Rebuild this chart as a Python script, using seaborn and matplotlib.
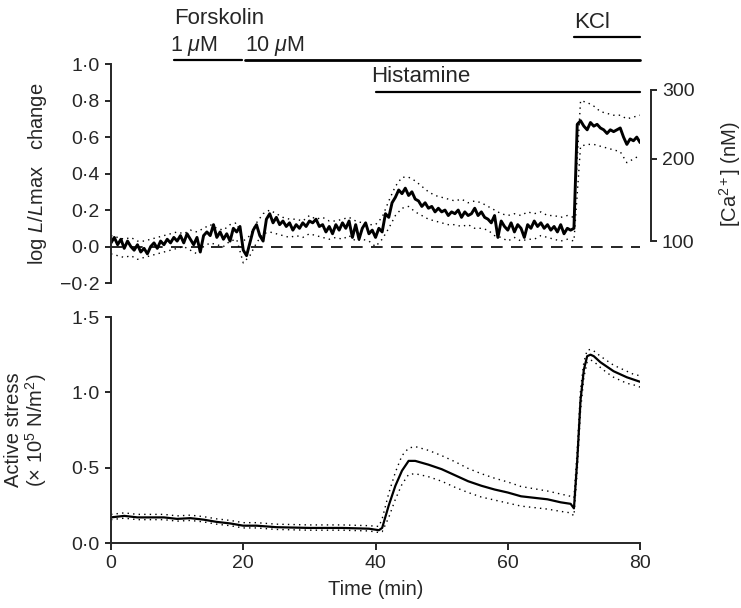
import numpy as np
import pandas as pd
import matplotlib
matplotlib.use("Agg")
import matplotlib.pyplot as plt
from matplotlib.ticker import FuncFormatter
import seaborn as sns

# --- top panel: log L/Lmax change (0.5 min sampling) ---
lum_time = [i * 0.5 for i in range(161)]
lum_mean = [
    0.02, 0.05, 0.01, 0.04, -0.01, 0.03, 0.00, -0.02, 0.01, -0.03,
    -0.01, -0.04, 0.00, 0.02, -0.01, 0.03, 0.01, 0.04, 0.02, 0.05,
    0.03, 0.06, 0.02, 0.07, 0.04, 0.01, 0.05, -0.03, 0.06, 0.08,
    0.06, 0.12, 0.05, 0.08, 0.04, 0.07, 0.03, 0.10, 0.08, 0.11,
    -0.02, -0.05, 0.02, 0.09, 0.12, 0.06, 0.03, 0.15, 0.18, 0.13,
    0.16, 0.12, 0.14, 0.11, 0.13, 0.09, 0.12, 0.10, 0.13, 0.11,
    0.14, 0.13, 0.15, 0.11, 0.12, 0.08, 0.11, 0.07, 0.12, 0.09,
    0.13, 0.10, 0.14, 0.05, 0.12, 0.04, 0.10, 0.13, 0.07, 0.09,
    0.05, 0.10, 0.08, 0.18, 0.16, 0.24, 0.27, 0.31, 0.29, 0.32,
    0.28, 0.30, 0.26, 0.25, 0.22, 0.24, 0.21, 0.22, 0.19, 0.21,
    0.19, 0.20, 0.17, 0.19, 0.18, 0.20, 0.16, 0.19, 0.17, 0.18,
    0.21, 0.17, 0.19, 0.16, 0.15, 0.13, 0.17, 0.05, 0.14, 0.11,
    0.09, 0.13, 0.08, 0.12, 0.10, 0.05, 0.12, 0.10, 0.14, 0.11,
    0.13, 0.10, 0.12, 0.09, 0.11, 0.08, 0.12, 0.07, 0.10, 0.09,
    0.10, 0.67, 0.69, 0.66, 0.64, 0.68, 0.66, 0.67, 0.65, 0.64,
    0.62, 0.64, 0.63, 0.64, 0.65, 0.60, 0.56, 0.59, 0.58, 0.60,
    0.57,
]
band_time = list(range(81))
lum_upper = [
    0.06, 0.05, 0.04, 0.05, 0.03, 0.03, 0.04, 0.05, 0.06, 0.07,
    0.08, 0.07, 0.09, 0.08, 0.10, 0.12, 0.10, 0.09, 0.12, 0.13,
    0.03, 0.06, 0.13, 0.18, 0.20, 0.18, 0.16, 0.15, 0.15, 0.14,
    0.17, 0.15, 0.16, 0.14, 0.14, 0.15, 0.16, 0.14, 0.13, 0.12,
    0.12, 0.16, 0.25, 0.33, 0.38, 0.38, 0.36, 0.33, 0.30, 0.28,
    0.27, 0.26, 0.25, 0.26, 0.24, 0.25, 0.24, 0.22, 0.20, 0.18,
    0.17, 0.18, 0.17, 0.19, 0.18, 0.19, 0.17, 0.17, 0.16, 0.17,
    0.16, 0.80, 0.79, 0.77, 0.74, 0.73, 0.72, 0.72, 0.70, 0.71,
    0.72,
]
lum_lower = [
    -0.04, -0.05, -0.06, -0.05, -0.07, -0.06, -0.05, -0.04, -0.03, -0.02,
    -0.01, 0.00, -0.02, -0.04, 0.00, 0.02, 0.01, 0.00, 0.03, 0.04,
    -0.09, -0.05, 0.02, 0.07, 0.08, 0.07, 0.06, 0.05, 0.06, 0.05,
    0.07, 0.06, 0.05, 0.04, 0.05, 0.04, 0.06, 0.03, 0.04, 0.03,
    0.00, 0.04, 0.10, 0.17, 0.21, 0.22, 0.19, 0.17, 0.15, 0.14,
    0.13, 0.12, 0.12, 0.11, 0.12, 0.10, 0.10, 0.09, 0.06, 0.05,
    0.03, 0.05, 0.03, 0.04, 0.04, 0.06, 0.05, 0.04, 0.03, 0.04,
    0.03, 0.55, 0.56, 0.56, 0.55, 0.54, 0.53, 0.52, 0.46, 0.48,
    0.50,
]

# right-hand calcium scale (nonlinear calibration, tick positions in log L/Lmax units)
ca_labels = ["100", "200", "300"]
ca_tick_pos = [0.03, 0.48, 0.86]

# --- bottom panel: active stress ---
stress_time = [0, 2, 4, 6, 8, 10, 12, 14, 16, 18, 20, 22, 25, 30, 35, 39,
               40.5, 41, 42, 43, 44, 45, 46, 48, 50, 52, 54, 56, 58, 60, 62,
               64, 66, 68, 69.5, 70, 70.5, 71, 71.5, 72, 72.5, 73, 74, 75,
               76, 77, 78, 79, 80]
stress_mean = [0.17, 0.18, 0.17, 0.17, 0.17, 0.16, 0.165, 0.155, 0.14, 0.13,
               0.115, 0.115, 0.105, 0.10, 0.10, 0.095,
               0.085, 0.10, 0.25, 0.38, 0.48, 0.545, 0.545, 0.52, 0.49, 0.45,
               0.41, 0.38, 0.355, 0.335, 0.31, 0.30, 0.29, 0.27, 0.26, 0.23,
               0.55, 0.95, 1.15, 1.24, 1.25, 1.24, 1.20, 1.17, 1.14, 1.12,
               1.10, 1.085, 1.07]
stress_upper = [0.19, 0.20, 0.19, 0.19, 0.19, 0.18, 0.185, 0.175, 0.16, 0.15,
                0.135, 0.135, 0.125, 0.12, 0.12, 0.115,
                0.11, 0.16, 0.33, 0.47, 0.58, 0.63, 0.64, 0.615, 0.58, 0.54,
                0.495, 0.46, 0.43, 0.405, 0.375, 0.36, 0.345, 0.325, 0.31, 0.30,
                0.62, 1.02, 1.20, 1.28, 1.285, 1.275, 1.24, 1.21, 1.18, 1.16,
                1.14, 1.12, 1.11]
stress_lower = [0.155, 0.165, 0.155, 0.155, 0.155, 0.145, 0.15, 0.14, 0.125, 0.115,
                0.10, 0.10, 0.09, 0.085, 0.085, 0.08,
                0.07, 0.075, 0.17, 0.29, 0.39, 0.455, 0.46, 0.44, 0.41, 0.37,
                0.335, 0.305, 0.285, 0.265, 0.245, 0.235, 0.225, 0.21, 0.20, 0.18,
                0.48, 0.88, 1.10, 1.20, 1.215, 1.205, 1.165, 1.13, 1.10, 1.08,
                1.06, 1.05, 1.035]

x_ticks = [0, 20, 40, 60, 80]
lum_ticks = [-0.2, 0.0, 0.2, 0.4, 0.6, 0.8, 1.0]
stress_ticks = [0.0, 0.5, 1.0, 1.5]

sns.set_style("ticks")
plt.rcParams["font.family"] = ["Liberation Sans", "DejaVu Sans"]
plt.rcParams["mathtext.fontset"] = "custom"
plt.rcParams["mathtext.rm"] = "Liberation Sans"
plt.rcParams["mathtext.it"] = "Liberation Sans:italic"
plt.rcParams["axes.linewidth"] = 1.4
plt.rcParams["xtick.major.width"] = 1.4
plt.rcParams["ytick.major.width"] = 1.4
plt.rcParams["xtick.major.size"] = 5
plt.rcParams["ytick.major.size"] = 4.5

dot_fmt = FuncFormatter(lambda v, p: f"{v:.1f}".replace(".", "\u00b7").replace("-", "\u2212"))

fig = plt.figure(figsize=(7.41, 6.08), dpi=100)
ax_top = fig.add_axes([0.1498, 0.5345, 0.714, 0.360])
ax_bot = fig.add_axes([0.1498, 0.1069, 0.714, 0.3717])

# top panel traces
df_lum = pd.DataFrame({"t": lum_time, "v": lum_mean})
df_band = pd.DataFrame({"t": band_time, "up": lum_upper, "lo": lum_lower})
sns.lineplot(data=df_band, x="t", y="up", ax=ax_top, color="black", lw=1.0,
             linestyle=(0, (1, 3)))
sns.lineplot(data=df_band, x="t", y="lo", ax=ax_top, color="black", lw=1.0,
             linestyle=(0, (1, 3)))
sns.lineplot(data=df_lum, x="t", y="v", ax=ax_top, color="black", lw=2.1)
ax_top.axhline(0, xmin=0, xmax=1, color="black", lw=1.2, linestyle=(0, (7, 5)))

ax_top.set_xlim(0, 80)
ax_top.set_ylim(-0.2, 1.0)
ax_top.set_yticks(lum_ticks)
ax_top.yaxis.set_major_formatter(dot_fmt)
ax_top.tick_params(axis="y", labelsize=14)
ax_top.set_xticks([])
ax_top.set_xlabel("")
ax_top.set_ylabel(r"log $L$/$L$max   change", fontsize=14.5, labelpad=8)
for s in ["top", "right", "bottom"]:
    ax_top.spines[s].set_visible(False)

# calcium scale on the right
ax_ca = ax_top.twinx()
ax_ca.set_ylim(ax_top.get_ylim())
ax_ca.set_yticks(ca_tick_pos)
ax_ca.set_yticklabels(ca_labels)
ax_ca.tick_params(axis="y", labelsize=14)
ax_ca.spines["right"].set_position(("axes", 1.02))
ax_ca.spines["right"].set_bounds(ca_tick_pos[0], ca_tick_pos[-1])
for s in ["top", "left", "bottom"]:
    ax_ca.spines[s].set_visible(False)
ax_ca.set_ylabel(r"[Ca$^{2+}$] (nM)", fontsize=14.5, labelpad=16)

# drug application bars
bar_kw = dict(color="black", clip_on=False)
ax_top.plot([9.5, 19.8], [1.022, 1.022], lw=1.6, **bar_kw)
ax_top.plot([20.3, 80], [1.022, 1.022], lw=2.0, **bar_kw)
ax_top.plot([40, 80], [0.848, 0.848], lw=1.6, **bar_kw)
ax_top.plot([70, 80], [1.147, 1.147], lw=1.6, **bar_kw)
ax_top.text(9.6, 1.25, "Forskolin", fontsize=16, va="center", ha="left")
ax_top.text(8.9, 1.10, r"1 $\mu$M", fontsize=15.5, va="center", ha="left")
ax_top.text(20.3, 1.10, r"10 $\mu$M", fontsize=15.5, va="center", ha="left")
ax_top.text(39.4, 0.935, "Histamine", fontsize=16, va="center", ha="left")
ax_top.text(70.1, 1.23, "KCl", fontsize=16, va="center", ha="left")

# bottom panel traces
df_st = pd.DataFrame({"t": stress_time, "m": stress_mean,
                      "up": stress_upper, "lo": stress_lower})
sns.lineplot(data=df_st, x="t", y="up", ax=ax_bot, color="black", lw=1.0,
             linestyle=(0, (1, 3)))
sns.lineplot(data=df_st, x="t", y="lo", ax=ax_bot, color="black", lw=1.0,
             linestyle=(0, (1, 3)))
sns.lineplot(data=df_st, x="t", y="m", ax=ax_bot, color="black", lw=1.6)

ax_bot.set_xlim(0, 80)
ax_bot.set_ylim(0, 1.5)
ax_bot.set_xticks(x_ticks)
ax_bot.set_yticks(stress_ticks)
ax_bot.yaxis.set_major_formatter(dot_fmt)
ax_bot.tick_params(axis="both", labelsize=14)
ax_bot.set_xlabel("Time (min)", fontsize=14.5, labelpad=6)
ax_bot.set_ylabel("Active stress\n" + r"($\times$ 10$^5$ N/m$^2$)", fontsize=14.5,
                  labelpad=16, linespacing=1.05)
for s in ["top", "right"]:
    ax_bot.spines[s].set_visible(False)

fig.savefig("out.png", dpi=100)
